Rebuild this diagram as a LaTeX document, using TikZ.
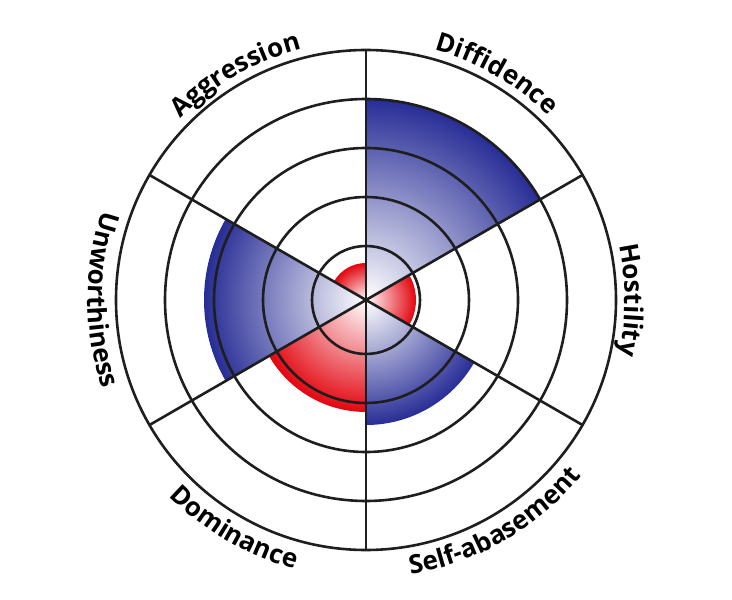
\documentclass[tikz,border=0pt]{standalone}
\usepackage{fontspec}
\newfontfamily\wheelfont{Open Sans}
\usetikzlibrary{decorations.text}
\definecolor{wheelblue}{RGB}{40,45,150}
\definecolor{wheelred}{RGB}{226,6,16}
\definecolor{wheelline}{RGB}{30,30,30}
\newcommand{\labelfont}{\wheelfont\bfseries\fontsize{26}{30}\selectfont}

\begin{document}
\begin{tikzpicture}[x=1pt, y=1pt]
    \tikzstyle{ring} = [wheelline, line width=2.6pt]
    \tikzstyle{arc label} = [decorate, decoration={text along path, text align=center}]
    \useasboundingbox (-366,-300) rectangle (366,300);
    % shaded sectors: from angle / to angle / radius / colour
    \foreach \a/\b/\r/\c in {90/150/37/wheelred, 30/90/201/wheelblue, -30/30/50/wheelred,
                             -90/-30/125/wheelblue, -150/-90/112/wheelred, 150/210/162/wheelblue} {
      \begin{scope}
        \clip (0,0) -- (\a:\r) arc[start angle=\a, end angle=\b, radius=\r] -- cycle;
        \shade [inner color=white, outer color=\c] (0,0) circle[radius=\r];
      \end{scope}
    }
    % rings and spokes
    \foreach \r in {54,103,152,201,250}
      \draw [ring] (0,0) circle[radius=\r];
    \foreach \a in {30,90,...,330}
      \draw [ring] (0,0) -- (\a:250);
    % labels, top half read clockwise
    \path [arc label, decoration={text={|\labelfont|Aggression}}]
      (160:259) arc[start angle=160, end angle=80, radius=259];
    \path [arc label, decoration={text={|\labelfont|Diffidence}}]
      (100:259) arc[start angle=100, end angle=20, radius=259];
    \path [arc label, decoration={text={|\labelfont|Hostility}}]
      (40:259) arc[start angle=40, end angle=-40, radius=259];
    % labels, bottom half read anticlockwise
    \path [arc label, decoration={text={|\labelfont|Self-abasement}}]
      (-100:278) arc[start angle=-100, end angle=-20, radius=278];
    \path [arc label, decoration={text={|\labelfont|Dominance}}]
      (-160:278) arc[start angle=-160, end angle=-80, radius=278];
    \path [arc label, decoration={text={|\labelfont|Unworthiness}}]
      (140:278) arc[start angle=140, end angle=220, radius=278];
\end{tikzpicture}
\end{document}
